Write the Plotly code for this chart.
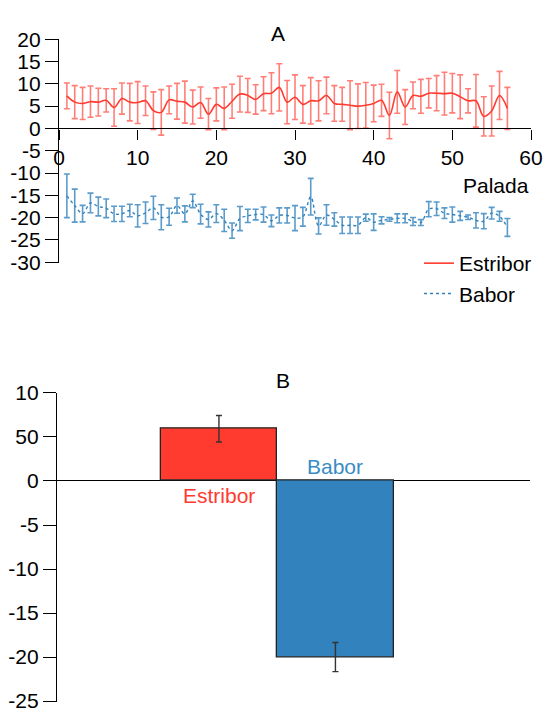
import plotly.graph_objects as go

# ---------------- data ----------------
palada = list(range(1, 58))

estribor_mean = [7.3, 5.9, 5.6, 6.0, 5.9, 6.3, 4.7, 6.7, 5.9, 5.8,
                 6.2, 4.0, 3.6, 6.4, 6.1, 5.9, 4.8, 5.8, 3.2, 5.4,
                 4.5, 6.1, 7.7, 7.4, 6.5, 7.8, 7.9, 9.2, 5.9, 7.0,
                 5.4, 6.2, 6.2, 7.4, 5.6, 5.4, 5.2, 5.0, 5.2, 5.6,
                 6.3, 2.9, 8.2, 4.8, 7.4, 7.2, 7.9, 7.9, 7.8, 7.9,
                 7.1, 6.2, 6.2, 2.7, 3.9, 7.4, 4.5]
estribor_err = [2.9, 3.7, 3.6, 3.5, 3.1, 2.6, 4.2, 3.5, 4.2, 4.7,
                3.3, 4.2, 5.1, 3.1, 4.0, 4.7, 3.8, 3.5, 3.5, 3.7,
                4.8, 3.8, 4.0, 3.8, 3.3, 3.8, 4.6, 5.3, 4.85, 5.0,
                4.2, 5.2, 4.5, 4.1, 4.0, 3.8, 5.5, 5.0, 5.1, 4.1,
                3.6, 5.2, 4.8, 3.9, 3.0, 3.8, 3.3, 3.95, 4.8, 4.4,
                4.9, 2.7, 5.9, 4.4, 5.6, 5.4, 4.7]

babor_mean = [-15.1, -17.3, -19.1, -16.7, -17.5, -17.9, -19.15, -19.15, -18.4, -19.6,
              -18.9, -17.8, -19.9, -19.8, -17.3, -19.15, -16.25, -19.2, -20.4, -19.1,
              -20.6, -22.9, -20.2, -19.6, -19.3, -19.3, -20.7, -19.5, -19.5, -20.1,
              -19.8, -15.3, -21.85, -19.4, -20.4, -21.7, -21.7, -21.7, -20.0, -21.0,
              -20.6, -20.4, -20.15, -20.15, -20.85, -21.1, -18.1, -18.0, -19.0, -19.3,
              -19.6, -19.9, -20.6, -20.8, -19.0, -19.7, -22.2]
babor_err = [4.9, 3.7, 1.85, 2.2, 2.1, 2.1, 1.7, 1.7, 1.4, 2.5,
             2.4, 2.6, 2.8, 1.9, 1.7, 1.8, 1.5, 2.2, 1.7, 2.0,
             2.5, 1.7, 2.7, 1.5, 1.2, 1.7, 1.3, 1.7, 1.7, 2.8,
             2.1, 4.1, 1.8, 2.3, 1.5, 1.85, 1.85, 1.85, 0.8, 1.85,
             0.8, 0.4, 1.0, 1.0, 0.9, 0.65, 1.7, 1.5, 1.2, 1.7,
             1.0, 0.5, 1.7, 1.7, 1.3, 1.1, 2.0]

bar_labels = ["Estribor", "Babor"]
bar_values = [5.93, -20.0]
bar_errors = [1.5, 1.65]

a_yticks = [20, 15, 10, 5, 0, -5, -10, -15, -20, -25, -30]
a_yticktext = ["20", "15", "10", "5", "0", "-5", "-10", "-15", "-20", "-25", "-30"]
a_xticks = [0, 10, 20, 30, 40, 50, 60]
b_yticks = [10, 5, 0, -5, -10, -15, -20, -25]
b_yticktext = ["10", "50", "0", "-5", "-10", "-15", "-20", "-25"]

# ---------------- styling ----------------
RED = "#ff3b30"
RED_ERR = "rgba(255,59,48,0.65)"
BLUE = "#3182bd"
BLUE_ERR = "rgba(49,130,189,0.8)"
FONT = "Liberation Sans, Arial, Helvetica, sans-serif"
FS = 21

W, H = 545, 712
a_xdom = [59 / W, 531 / W]
a_ydom = [1 - 262.5 / H, 1 - 39 / H]
a_yrange = [-30.05, 20.05]
b_xdom = [57 / W, 530 / W]
b_ydom = [1 - 702 / H, 1 - 392.5 / H]
b_yrange = [-25.1, 10.05]

a_zero_pos = a_ydom[0] + (0 - a_yrange[0]) / (a_yrange[1] - a_yrange[0]) * (a_ydom[1] - a_ydom[0])

fig = go.Figure()

fig.add_trace(go.Scatter(
    x=palada, y=estribor_mean, name="Estribor", mode="lines",
    line=dict(color=RED, width=1.6, shape="spline", smoothing=1.0),
    error_y=dict(type="data", array=estribor_err, color=RED_ERR, thickness=1.6, width=3),
    xaxis="x", yaxis="y",
))
fig.add_trace(go.Scatter(
    x=palada, y=babor_mean, name="Babor", mode="lines",
    line=dict(color=BLUE, width=1.4, shape="spline", smoothing=1.0, dash="dot"),
    error_y=dict(type="data", array=babor_err, color=BLUE_ERR, thickness=1.6, width=3),
    xaxis="x", yaxis="y",
))

fig.add_trace(go.Bar(
    x=list(range(len(bar_labels))), y=bar_values, width=1.0,
    marker=dict(color=[RED, BLUE], line=dict(color="#222222", width=1.3)),
    error_y=dict(type="data", array=bar_errors, color="#333333", thickness=1.4, width=3),
    showlegend=False, xaxis="x2", yaxis="y2",
))

axis_common = dict(showgrid=False, automargin=False, ticklabeloverflow="allow",
                   tickfont=dict(family=FONT, size=FS, color="black"),
                   linecolor="black", linewidth=1.3, tickcolor="black", tickwidth=1.3)

fig.update_layout(
    template="none",
    width=W, height=H,
    margin=dict(l=0, r=0, t=0, b=0, pad=0),
    paper_bgcolor="white", plot_bgcolor="white",
    font=dict(family=FONT, size=FS, color="black"),
    xaxis=dict(domain=a_xdom, range=[0, 60], anchor="free", position=a_zero_pos,
               tickvals=a_xticks, ticks="outside", ticklen=10, showline=True,
               zeroline=False, **axis_common),
    yaxis=dict(domain=a_ydom, range=a_yrange, anchor="x", tickvals=a_yticks,
               ticktext=a_yticktext, ticks="outside", ticklen=13, showline=True,
               zeroline=False, **axis_common),
    xaxis2=dict(domain=b_xdom, range=[-1.39, 2.67], anchor="y2", showticklabels=False,
                ticks="", showline=False, zeroline=False, showgrid=False, automargin=False),
    yaxis2=dict(domain=b_ydom, range=b_yrange, anchor="x2", tickvals=b_yticks,
                ticktext=b_yticktext, ticks="outside", ticklen=13, showline=True,
                zeroline=True, zerolinecolor="black", zerolinewidth=1.3, **axis_common),
    legend=dict(x=419 / W, y=1 - 243 / H, xanchor="left", yanchor="top",
                bgcolor="rgba(0,0,0,0)", font=dict(family=FONT, size=FS, color="black"),
                tracegroupgap=0),
    showlegend=True,
    bargap=0,
)

fig.add_annotation(text="A", x=278 / W, y=1 - 20 / H, xref="paper", yref="paper",
                   showarrow=False, font=dict(family=FONT, size=FS, color="black"))
fig.add_annotation(text="B", x=283 / W, y=1 - 380 / H, xref="paper", yref="paper",
                   showarrow=False, font=dict(family=FONT, size=FS, color="black"))
fig.add_annotation(text="Palada", x=a_xdom[1], y=1 - 172 / H, xref="paper", yref="paper",
                   xanchor="right", showarrow=False,
                   font=dict(family=FONT, size=FS, color="black"))
fig.add_annotation(text=bar_labels[0], x=0, y=0, xref="x2", yref="y2", yanchor="top",
                   yshift=-1, showarrow=False, font=dict(family=FONT, size=FS, color=RED))
fig.add_annotation(text=bar_labels[1], x=1, y=0, xref="x2", yref="y2", yanchor="bottom",
                   yshift=1, showarrow=False, font=dict(family=FONT, size=FS, color="#3a8cc4"))

fig.write_html("out.html",
               config={"displayModeBar": False},
               post_script="document.body.style.margin='0';document.body.style.overflow='hidden';")
